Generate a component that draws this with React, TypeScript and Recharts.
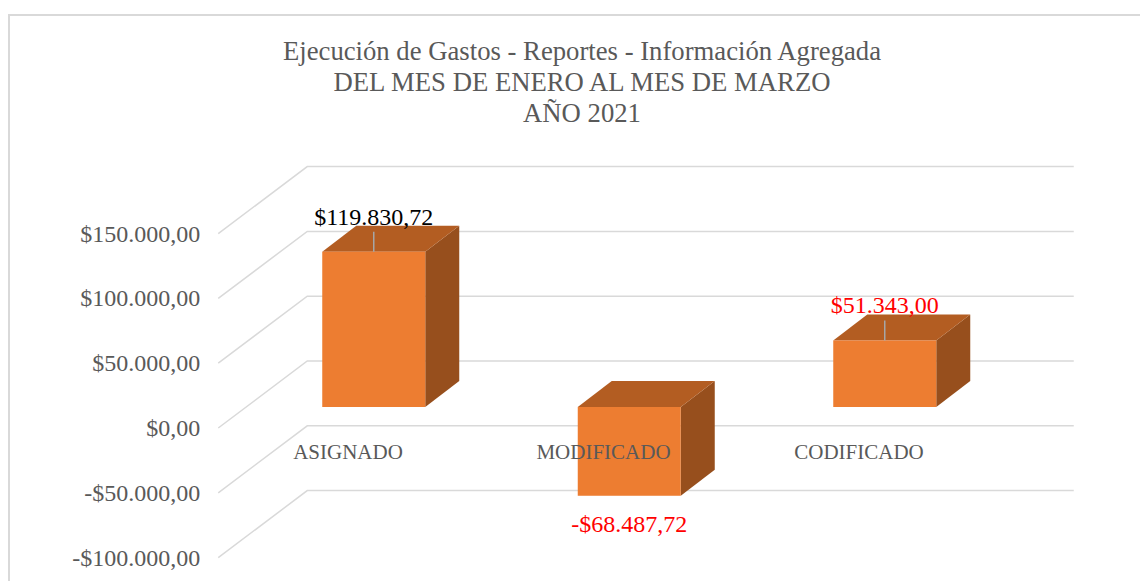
import { BarChart, Bar, XAxis, YAxis, CartesianGrid, LabelList } from 'recharts';

const categories = ['ASIGNADO', 'MODIFICADO', 'CODIFICADO'];
const amounts = [119830.72, -68487.72, 51343.0];
const labelColors = ['#000000', '#FF0000', '#FF0000'];
const yTicks = [-100000, -50000, 0, 50000, 100000, 150000];
const titleLines = [
  'Ejecución de Gastos - Reportes - Información Agregada',
  'DEL MES DE ENERO AL MES DE MARZO',
  'AÑO 2021',
];

const data = categories.map((name, i) => ({ name, value: amounts[i], labelColor: labelColors[i] }));

// layout
const W = 1140;
const H = 581;
const Y_MIN = -100000;
const Y_MAX = 150000;
const MARGIN = { top: 212.6, right: 127.25, bottom: 14.4, left: 0 };
const X_AXIS_H = 30;
const Y_AXIS_W = 246.25;
const PLOT_H = H - MARGIN.top - MARGIN.bottom - X_AXIS_H;
const ZERO_Y = MARGIN.top + (PLOT_H * Y_MAX) / (Y_MAX - Y_MIN);

// fake 3d offsets
const BAR_DX = 34;
const BAR_DY = -26;
const BACK_DX = 61;
const BACK_DY = -46;
const FRONT_DX = -28;
const FRONT_DY = 21;

const FONT = "'Liberation Serif', 'Times New Roman', serif";
const GRID = '#d9d9d9';
const TEXT = '#595959';
const FRONT = '#ED7D31';
const TOP = '#B35D22';
const SIDE = '#974F1D';

const fmt = (v: number) => {
  const abs = Math.abs(v);
  const [int, dec] = abs.toFixed(2).split('.');
  const withDots = int.replace(/\B(?=(\d{3})+(?!\d))/g, '.');
  return (v < 0 ? '-$' : '$') + withDots + ',' + dec;
};

const gridLine = (props: any) => {
  const { x1, x2, y1, index } = props;
  const pts = [
    `${x1 + FRONT_DX},${y1 + FRONT_DY}`,
    `${x1 + BACK_DX},${y1 + BACK_DY}`,
    `${x2 + BACK_DX},${y1 + BACK_DY}`,
  ].join(' ');
  return <polyline key={`g-${index ?? y1}`} points={pts} fill="none" stroke={GRID} strokeWidth={1.5} />;
};

const Box3D = (props: any) => {
  const { x, y, width, height } = props;
  const top = Math.min(y, y + height);
  const h = Math.abs(height);
  const r = x + width;
  return (
    <g>
      <polygon
        points={`${r},${top} ${r + BAR_DX},${top + BAR_DY} ${r + BAR_DX},${top + h + BAR_DY} ${r},${top + h}`}
        fill={SIDE}
      />
      <polygon
        points={`${x},${top} ${x + BAR_DX},${top + BAR_DY} ${r + BAR_DX},${top + BAR_DY} ${r},${top}`}
        fill={TOP}
      />
      <rect x={x} y={top} width={width} height={h} fill={FRONT} />
    </g>
  );
};

const ValueLabel = (props: any) => {
  const vb = props.viewBox ?? props;
  const x = vb.x ?? props.x;
  const y = vb.y ?? props.y;
  const width = vb.width ?? props.width;
  const height = vb.height ?? props.height;
  const value = Number(props.value);
  const color = data[props.index]?.labelColor ?? '#000';
  const top = Math.min(y, y + height);
  const bottom = Math.max(y, y + height);
  const cx = x + width / 2;
  if (value >= 0) {
    return (
      <g>
        <line x1={cx} y1={top - 20} x2={cx} y2={top} stroke="#a6a6a6" strokeWidth={1.5} />
        <text x={cx} y={top - 27} textAnchor="middle" fill={color} fontFamily={FONT} fontSize={24}>
          {fmt(value)}
        </text>
      </g>
    );
  }
  return (
    <text x={cx} y={bottom + 36} textAnchor="middle" fill={color} fontFamily={FONT} fontSize={24}>
      {fmt(value)}
    </text>
  );
};

const YTick = (props: any) => {
  const { y, payload } = props;
  return (
    <text x={Y_AXIS_W - 46} y={y + FRONT_DY + 8} textAnchor="end" fill={TEXT} fontFamily={FONT} fontSize={24}>
      {fmt(payload.value)}
    </text>
  );
};

const XTick = (props: any) => {
  const { x, payload } = props;
  return (
    <text x={x + FRONT_DX + 2} y={ZERO_Y + FRONT_DY + 31} textAnchor="middle" fill={TEXT} fontFamily={FONT} fontSize={21}>
      {payload.value}
    </text>
  );
};

export default function App() {
  return (
    <div style={{ position: 'relative', width: W, height: H, background: '#fff' }}>
      <style>{'body{margin:0;overflow:hidden;}'}</style>
      <div
        style={{
          position: 'absolute',
          left: 8,
          top: 14,
          right: 0,
          bottom: 0,
          borderTop: `2px solid ${GRID}`,
          borderLeft: `2px solid ${GRID}`,
          pointerEvents: 'none',
        }}
      />
      <div
        style={{
          position: 'absolute',
          left: 0,
          width: W,
          top: 36,
          textAlign: 'center',
          fontFamily: FONT,
          fontSize: 26.7,
          lineHeight: '31px',
          color: TEXT,
          paddingLeft: 24,
          boxSizing: 'border-box',
        }}
      >
        {titleLines.map((t) => (
          <div key={t}>{t}</div>
        ))}
      </div>
      <div style={{ position: 'absolute', left: 0, top: 0 }}>
        <BarChart width={W} height={H} data={data} margin={MARGIN}>
          <CartesianGrid vertical={false} horizontal={gridLine} />
          <XAxis
            dataKey="name"
            height={X_AXIS_H}
            axisLine={false}
            tickLine={false}
            tick={<XTick />}
          />
          <YAxis
            domain={[Y_MIN, Y_MAX]}
            ticks={yTicks}
            width={Y_AXIS_W}
            axisLine={false}
            tickLine={false}
            tick={<YTick />}
          />
          <Bar dataKey="value" barSize={103} shape={<Box3D />} isAnimationActive={false}>
            <LabelList dataKey="value" content={<ValueLabel />} />
          </Bar>
        </BarChart>
      </div>
    </div>
  );
}
